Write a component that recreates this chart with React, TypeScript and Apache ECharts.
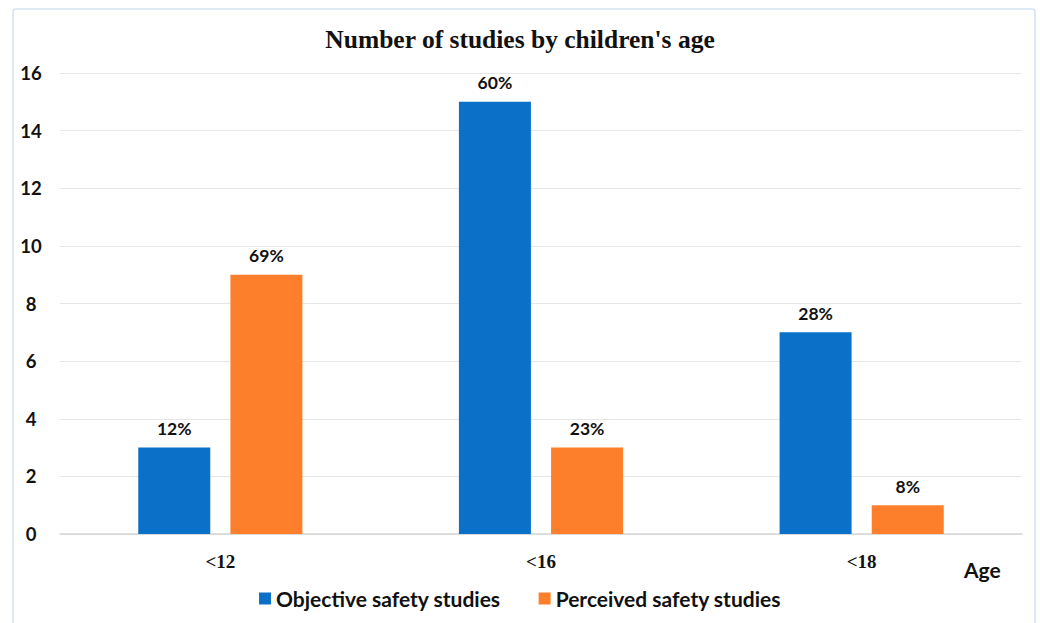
import React, { useEffect, useRef } from "react";
import * as echarts from "echarts";

const categories = ["<12", "<16", "<18"];
const objectiveValues = [3, 15, 7];
const perceivedValues = [9, 3, 1];
const objectivePct = ["12%", "60%", "28%"];
const perceivedPct = ["69%", "23%", "8%"];
const seriesNames = ["Objective safety studies", "Perceived safety studies"];
const titleText = "Number of studies by children's age";
const axisName = "Age";

const SANS = "Lato, 'Noto Sans', sans-serif";
const SERIF = "'Liberation Serif', 'DejaVu Serif', serif";

export default function App() {
  const ref = useRef<HTMLDivElement>(null);
  useEffect(() => {
    document.body.style.margin = "0";
    if (!ref.current) return;
    const chart = echarts.init(ref.current, null, { renderer: "svg" });
    const labelStyle = (arr: string[]) => ({
      show: true,
      position: "top" as const,
      distance: 10,
      fontFamily: SANS,
      fontWeight: "bold" as const,
      fontSize: 17.5,
      color: "#111",
      formatter: (p: any) => arr[p.dataIndex],
    });
    chart.setOption({
      animation: false,
      backgroundColor: "#ffffff",
      title: {
        text: titleText,
        left: "center",
        top: 21,
        textStyle: {
          fontFamily: SERIF,
          fontWeight: "bold",
          fontSize: 25.5,
          color: "#111",
        },
      },
      legend: {
        bottom: 9,
        left: "center",
        itemWidth: 12,
        itemHeight: 12,
        itemGap: 38,
        icon: "rect",
        textStyle: {
          fontFamily: SANS,
          fontWeight: "bold",
          fontSize: 21,
          color: "#111",
        },
        data: seriesNames,
      },
      grid: { left: 60, right: 18, top: 73, bottom: 89 },
      xAxis: {
        type: "category",
        data: categories,
        axisTick: { show: false },
        axisLine: { lineStyle: { color: "#d6d6d6", width: 1.5 } },
        axisLabel: {
          fontFamily: SERIF,
          fontWeight: "bold",
          fontSize: 19,
          color: "#111",
          margin: 18,
        },
      },
      yAxis: {
        type: "value",
        min: 0,
        max: 16,
        interval: 2,
        axisLine: { show: false },
        axisTick: { show: false },
        splitLine: { lineStyle: { color: "#e6e6e6", width: 1 } },
        axisLabel: {
          fontFamily: SANS,
          fontWeight: "bold",
          fontSize: 18.5,
          color: "#111",
          align: "center",
          margin: 29,
        },
      },
      series: [
        {
          name: seriesNames[0],
          type: "bar",
          data: objectiveValues,
          barWidth: 72,
          barGap: "28%",
          itemStyle: { color: "#0a70c8" },
          label: labelStyle(objectivePct),
        },
        {
          name: seriesNames[1],
          type: "bar",
          data: perceivedValues,
          barWidth: 72,
          itemStyle: { color: "#fd7f2c" },
          label: labelStyle(perceivedPct),
        },
      ],
      graphic: [
        {
          type: "rect",
          shape: { x: 13, y: 9, width: 1022, height: 640, r: 3 },
          style: { fill: "none", stroke: "#d3e2f2", lineWidth: 1.5 },
          silent: true,
        },
        {
          type: "text",
          left: 964,
          top: 559,
          style: {
            text: axisName,
            fontFamily: SANS,
            fontWeight: "bold",
            fontSize: 21,
            fill: "#111",
          },
        },
      ],
    });
    return () => chart.dispose();
  }, []);
  return (
    <div
      ref={ref}
      style={{ position: "fixed", left: 0, top: 0, width: 1040, height: 623 }}
    />
  );
}
